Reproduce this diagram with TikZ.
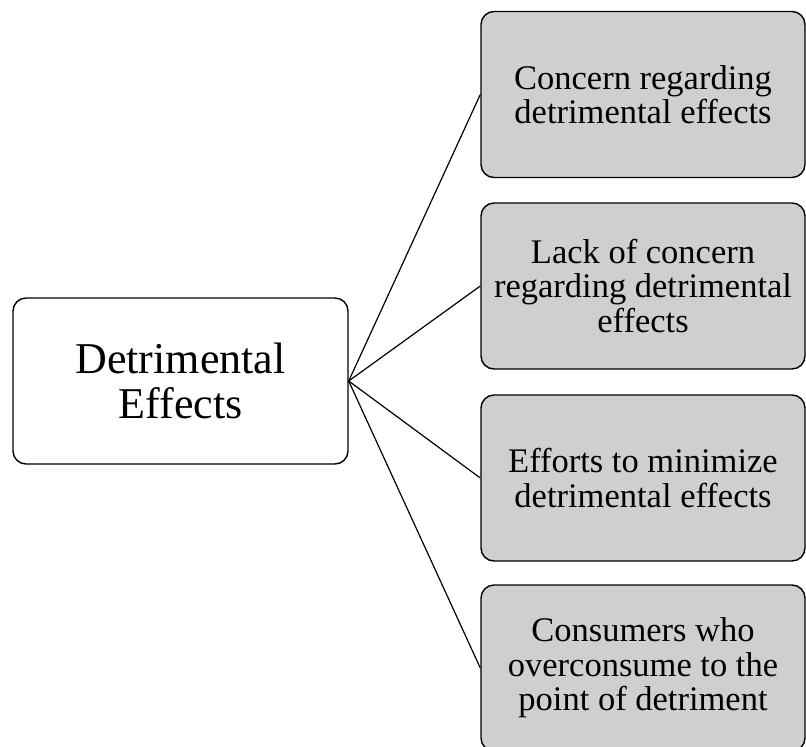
\documentclass[tikz,border=0pt]{standalone}
\usepackage{fontspec}
\setmainfont{Liberation Serif}
\definecolor{boxgray}{RGB}{208,206,209}
\begin{document}
\begin{tikzpicture}[x=1pt,y=-1pt,
  box/.style={draw=black, line width=1.4pt, rounded corners=13pt, align=center,
    inner sep=0pt, text=black},
  rootbox/.style={box, fill=white, minimum width=335pt, minimum height=166pt,
    font=\fontsize{44}{45}\selectfont},
  leafbox/.style={box, fill=boxgray, minimum width=324pt, minimum height=166pt,
    font=\fontsize{34.5}{34.5}\selectfont},
  link/.style={draw=black, line width=1.2pt}]
  \useasboundingbox (0,0) rectangle (806,747);
  \clip (0,0) rectangle (806,747);
  \fill[white] (0,0) rectangle (806,747);

  \node[rootbox] (root) at (180.5,381) {Detrimental\\Effects};

  \node[leafbox] (c1) at (643,94.5) {Concern regarding\\detrimental effects};
  \node[leafbox] (c2) at (643,286) {Lack of concern\\regarding detrimental\\effects};
  \node[leafbox] (c3) at (643,478) {Efforts to minimize\\detrimental effects};
  \node[leafbox] (c4) at (643,668) {Consumers who\\overconsume to the\\point of detriment};

  \foreach \c in {c1,c2,c3,c4}
    \draw[link] (root.east) -- (\c.west);
\end{tikzpicture}
\end{document}
